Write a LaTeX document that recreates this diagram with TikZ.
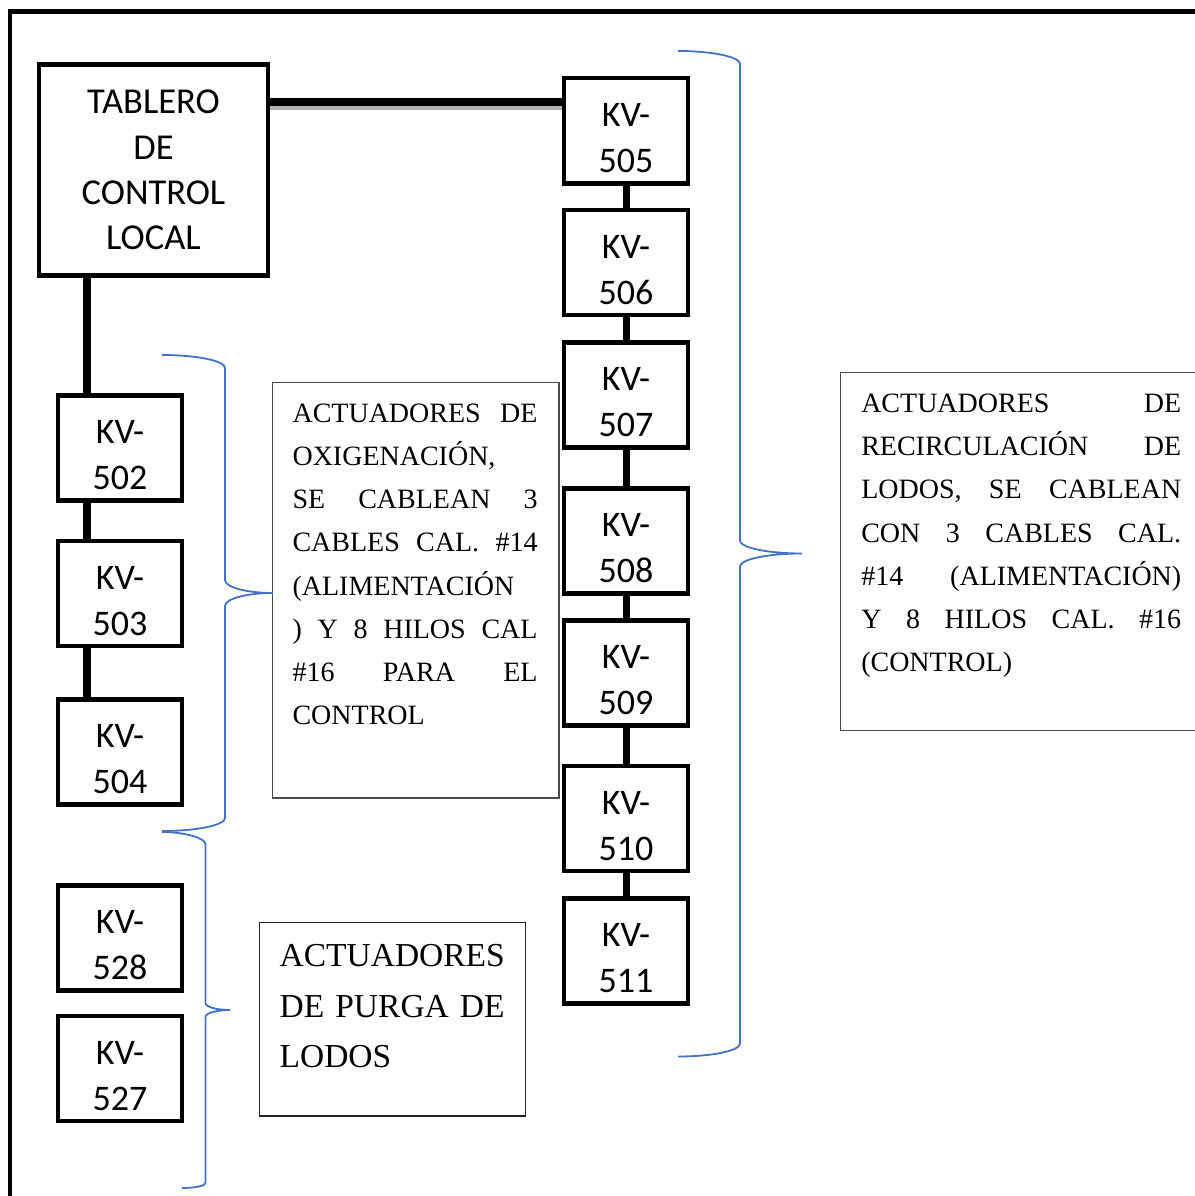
\documentclass[tikz,border=0pt]{standalone}
\usepackage{fontspec}
\setmainfont{Liberation Serif}
\newfontfamily\boxfont{Carlito}
\definecolor{braceblue}{HTML}{4472C4}
% one justified line of a note: words spread to the given width
\newcommand\justline[2]{\hbox to #1{#2}}
\begin{document}
\begin{tikzpicture}[x=1pt,y=-1pt,
  kvbox/.style={draw, line width=4.5pt, fill=white, minimum width=124pt,
    minimum height=105pt, inner sep=0pt},
  kvlabel/.style={font=\boxfont\fontsize{36}{46}\selectfont, align=center, inner sep=0pt},
  panel/.style={draw, line width=4.5pt, fill=white, inner sep=0pt, align=center,
    font=\boxfont\fontsize{36.5}{45.3}\selectfont},
  bus/.style={line width=8pt},
  link/.style={line width=7pt},
  note/.style={draw=black!70, line width=1.3pt, fill=white, inner sep=0pt},
  notetext/.style={anchor=north west, inner sep=0pt, align=left,
    font=\fontsize{28}{43.2}\selectfont},
  brace/.style={draw=braceblue, line width=1.8pt}
]
\useasboundingbox (0,0) rectangle (1194,1196);

% outer frame (runs off the page on the right and at the bottom)
\draw[line width=4.2pt] (10.3,1200) -- (10.3,11.5) -- (1200,11.5);

% local control panel
\node[panel, minimum width=229pt, minimum height=211pt] (tablero) at (153.5,170)
  {TABLERO\\DE\\CONTROL\\LOCAL};

% valve actuators
\foreach \n/\x/\y in {502/120/447.75, 503/120/593.5, 504/120/752,
                      528/120/937.75, 527/120/1068.5,
                      505/626/130.75, 506/626/262.5, 507/626/395, 508/626/540.75,
                      509/626/673, 510/626/818.5, 511/626/950.75} {
  \node[kvbox] (kv\n) at (\x,\y) {};
  \node[kvlabel] (kvt\n) at ([yshift=-7.5pt]kv\n.center) {KV-\\\n};
}

% cabling: panel to the recirculation chain
\path (tablero.north east) ++(0,39.5) coordinate (busL);
\draw[line width=6pt, black!30] ([yshift=-5.5pt]busL) -- ([yshift=-5.5pt]busL -| kv505.west);
\draw[bus] (busL) -- (busL -| kv505.west);
\foreach \a/\b in {505/506, 506/507, 507/508, 508/509, 509/510, 510/511}
  \draw[link] (kv\a.south) -- (kv\b.north);

% cabling: panel down to the oxygenation chain
\coordinate (ltrunk) at (86.5,0);
\draw[bus] (tablero.south -| ltrunk) -- (kv502.north -| ltrunk);
\draw[bus] (kv502.south -| ltrunk) -- (kv503.north -| ltrunk);
\draw[bus] (kv503.south -| ltrunk) -- (kv504.north -| ltrunk);

% notes
\node[note, minimum width=286.3pt, minimum height=415.3pt] (oxnote) at (415.85,590.35) {};
\node[notetext] (oxtext) at ([xshift=20.3pt,yshift=-21.5pt]oxnote.north west) {%
  \justline{245pt}{ACTUADORES\hfill DE}\\
  OXIGENACIÓN,\\
  \justline{245pt}{SE\hfill CABLEAN\hfill 3}\\
  \justline{245pt}{CABLES\hfill CAL.\hfill \#14}\\
  (ALIMENTACIÓN\\
  \justline{245pt}{)\hfill Y\hfill 8\hfill HILOS\hfill CAL}\\
  \justline{245pt}{\#16\hfill PARA\hfill EL}\\
  CONTROL};

\node[note, minimum width=359.3pt, minimum height=358pt] (renote) at (1020.35,551.7) {};
\node[notetext] (retext) at ([xshift=21pt,yshift=-21.8pt]renote.north west) {%
  \justline{320pt}{ACTUADORES\hfill DE}\\
  \justline{320pt}{RECIRCULACIÓN\hfill DE}\\
  \justline{320pt}{LODOS,\hfill SE\hfill CABLEAN}\\
  \justline{320pt}{CON\hfill 3\hfill CABLES\hfill CAL.}\\
  \justline{320pt}{\#14\hfill (ALIMENTACIÓN)}\\
  \justline{320pt}{Y\hfill 8\hfill HILOS\hfill CAL.\hfill \#16}\\
  (CONTROL)};

\node[note, draw=black!85, line width=1.1pt, minimum width=266.4pt, minimum height=193.7pt]
  (punote) at (392.5,1019.15) {};
\node[notetext, font=\fontsize{33.5}{50.8}\selectfont] (putext)
  at ([xshift=20.7pt,yshift=-22.2pt]punote.north west) {%
  ACTUADORES\\
  \justline{225pt}{DE\hfill PURGA\hfill DE}\\
  LODOS};

% grouping braces
\draw[brace] (162,355) .. controls (196.8,355) and (225,360.8) .. (225,368)
  -- (225,580) .. controls (225,587.2) and (246.5,593) .. (273,593)
  .. controls (246.5,593) and (225,598.8) .. (225,606)
  -- (225,818) .. controls (225,825.2) and (196.8,831) .. (162,831);

\draw[brace] (162,832) .. controls (186,832) and (205.5,838.6) .. (205.5,844)
  -- (205.5,1003) .. controls (205.5,1006.9) and (216.5,1010) .. (230,1010)
  .. controls (216.5,1010) and (205.5,1013.1) .. (205.5,1017)
  -- (205.5,1183) .. controls (205.5,1185.8) and (195,1188) .. (182,1188);

\draw[brace] (678,51) .. controls (712.2,51) and (740,56.8) .. (740,64)
  -- (740,540.5) .. controls (740,547.7) and (767.8,553.5) .. (802,553.5)
  .. controls (767.8,553.5) and (740,559.3) .. (740,566.5)
  -- (740,1043.5) .. controls (740,1050.7) and (712.2,1056.5) .. (678,1056.5);
\end{tikzpicture}
\end{document}
